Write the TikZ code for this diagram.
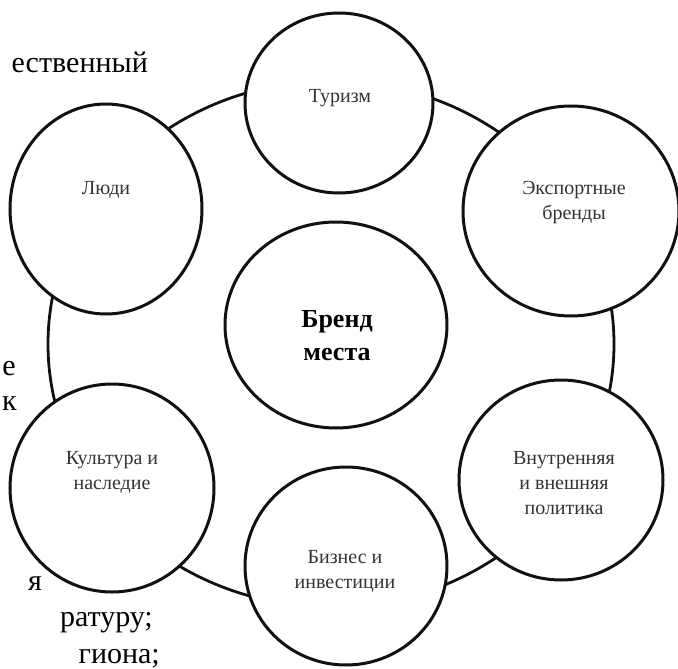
\documentclass[tikz,border=0pt]{standalone}
\usepackage{fontspec}
\setmainfont{Liberation Serif}
\usetikzlibrary{shapes.geometric}
\definecolor{ink}{HTML}{111111}
\definecolor{labelgray}{HTML}{333333}
\begin{document}
\begin{tikzpicture}[x=1pt,y=-1pt,
  bubble/.style={ellipse, draw=ink, line width=3pt, fill=white, inner sep=0pt},
  lbl/.style={text=labelgray, font=\fontsize{20}{25}\selectfont, align=center, inner sep=0pt},
  margintext/.style={text=black, font=\fontsize{30}{36}\selectfont, inner sep=0pt, anchor=base east}]
\useasboundingbox (0,0) rectangle (678,669);
\clip (0,0) rectangle (678,669);
\fill[white] (0,0) rectangle (678,669);
% outer ring
\node[bubble, fill=none, line width=2.8pt, minimum width=566pt, minimum height=526pt] (ring) at (331,344) {};
% circles
\node[bubble, minimum width=222pt, minimum height=206pt] (center) at (336,325) {};
\node[bubble, minimum width=188pt, minimum height=180pt] (tourism) at (339,103) {};
\node[bubble, minimum width=216pt, minimum height=210pt] (export) at (571,211) {};
\node[bubble, minimum width=204pt, minimum height=200pt] (policy) at (561,480) {};
\node[bubble, minimum width=202pt, minimum height=198pt] (business) at (346,566) {};
\node[bubble, minimum width=204pt, minimum height=208pt] (culture) at (112,488) {};
\node[bubble, minimum width=192pt, minimum height=210pt] (people) at (106,209) {};
% labels
\node[lbl] (tourismtext) at (340,98) {Туризм};
\node[lbl] (exporttext) at (574,203) {Экспортные\\бренды};
\node[lbl] (policytext) at (564,483) {Внутренняя\\и внешняя\\политика};
\node[lbl] (businesstext) at (345,571) {Бизнес и\\инвестиции};
\node[lbl] (culturetext) at (112,472) {Культура и\\наследие};
\node[lbl] (peopletext) at (106,190) {Люди};
\node[lbl, text=black, font=\bfseries\fontsize{26}{33}\selectfont] (centertext) at (337,336) {Бренд\\места};
% margin text of the page
\node[margintext] (m1) at (148,73) {ественный};
\node[margintext] (m2) at (16,375) {е};
\node[margintext] (m3) at (17,410) {к};
\node[margintext] (m4) at (42,590) {я};
\node[margintext] (m5) at (153,626) {ратуру;};
\node[margintext] (m6) at (160,663) {гиона;};
\end{tikzpicture}
\end{document}
